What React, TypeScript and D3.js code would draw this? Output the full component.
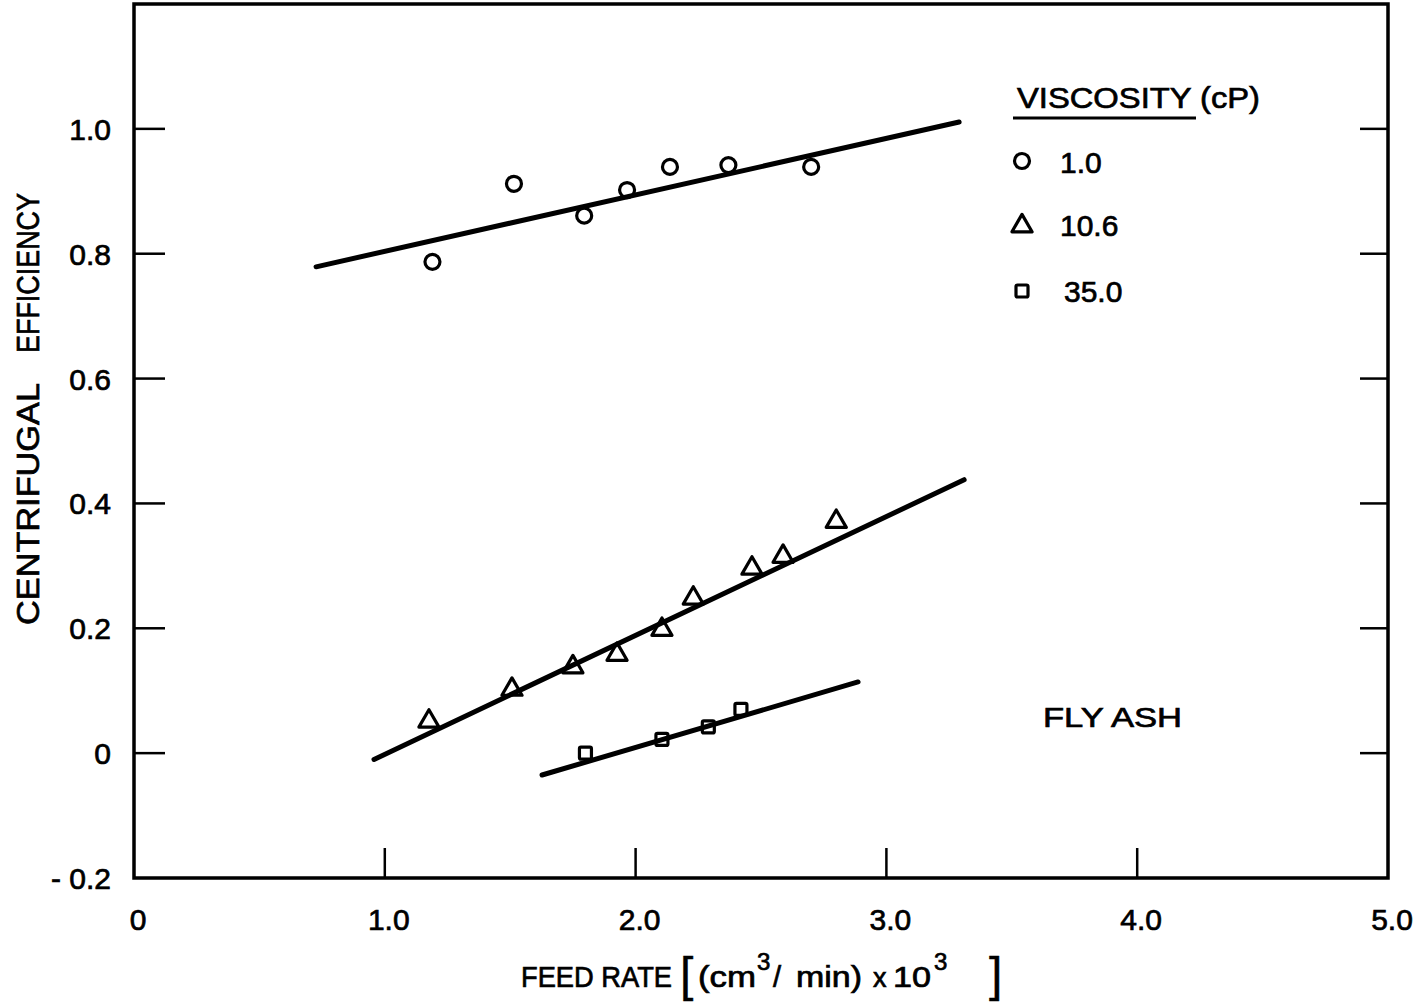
import React from "react";
import * as d3 from "d3";

// Feed rate (cm3/min x 10^3) and centrifugal efficiency, fly ash slurries
const lowViscX = [1.19, 1.515, 1.795, 1.966, 2.137, 2.37, 2.7];
const lowViscY = [0.787, 0.912, 0.861, 0.902, 0.939, 0.942, 0.939];
const midViscX = [1.176, 1.507, 1.75, 1.926, 2.105, 2.23, 2.464, 2.588, 2.8];
const midViscY = [0.051, 0.102, 0.138, 0.158, 0.198, 0.248, 0.296, 0.315, 0.371];
const highViscX = [1.8, 2.105, 2.29, 2.42];
const highViscY = [0.0, 0.022, 0.042, 0.07];

// Fitted lines: [x0, y0, x1, y1]
const lowFit = [0.726, 0.779, 3.29, 1.011];
const midFit = [0.957, -0.01, 3.31, 0.438];
const highFit = [1.627, -0.035, 2.887, 0.114];

const xTicks = [0, 1, 2, 3, 4, 5];
const xTickLabels = ["0", "1.0", "2.0", "3.0", "4.0", "5.0"];
const yTicks = [-0.2, 0, 0.2, 0.4, 0.6, 0.8, 1.0];
const yTickLabels = ["- 0.2", "0", "0.2", "0.4", "0.6", "0.8", "1.0"];
const legendTitle = "VISCOSITY (cP)";
const legendLabels = ["1.0", "10.6", "35.0"];

const FONT = "'Liberation Sans', Arial, sans-serif";
const INK = { fill: "#000", stroke: "#000", strokeWidth: 0.7 };

export default function App() {
  const left = 134, right = 1388, top = 4, bottom = 878;
  const x = d3.scaleLinear().domain([0, 5]).range([left, right]);
  const y = d3.scaleLinear().domain([-0.2, 1.2]).range([bottom, top]);
  const line = d3.line<[number, number]>().x((d) => x(d[0])).y((d) => y(d[1]));
  const fitPath = (f: number[]) => line([[f[0], f[1]], [f[2], f[3]]]) || "";

  const tri = d3.symbol().type(d3.symbolTriangle).size(175)() || "";

  const circle = (cx: number, cy: number, k: string) => (
    <circle key={k} cx={cx} cy={cy} r={7.5} fill="none" stroke="#000" strokeWidth={3.2} />
  );
  const triangle = (cx: number, cy: number, k: string) => (
    <path key={k} d={tri} transform={`translate(${cx},${cy})`} fill="none" stroke="#000" strokeWidth={3.2} strokeLinejoin="round" />
  );
  const square = (cx: number, cy: number, k: string) => (
    <rect key={k} x={cx - 6} y={cy - 6} width={12} height={12} rx={1.5} fill="none" stroke="#000" strokeWidth={3.2} />
  );

  return (
    <svg width={1424} height={1005} style={{ position: "absolute", left: 0, top: 0, background: "#fff" }} fontFamily={FONT}>
      <rect x={0} y={0} width={1424} height={1005} fill="#fff" />
      {/* frame */}
      <path d={`M${left},${top}H${right}V${bottom}H${left}Z`} fill="none" stroke="#000" strokeWidth={3.5} />

      {/* y ticks left and right */}
      {yTicks.map((t, i) => (
        <g key={"yt" + i}>
          {t > -0.2 && t < 1.1 && (
            <>
              <line x1={left} x2={left + 31} y1={y(t)} y2={y(t)} stroke="#000" strokeWidth={2.5} />
              <line x1={right - 28} x2={right} y1={y(t)} y2={y(t)} stroke="#000" strokeWidth={2.5} />
            </>
          )}
          <text x={111} y={y(t) + 11} textAnchor="end" fontSize={30} {...INK}>
            {yTickLabels[i]}
          </text>
        </g>
      ))}

      {/* x ticks */}
      {xTicks.map((t, i) => (
        <g key={"xt" + i}>
          {t > 0 && t < 5 && (
            <line x1={x(t)} x2={x(t)} y1={bottom} y2={bottom - 30} stroke="#000" strokeWidth={2.5} />
          )}
          <text x={x(t) + 4} y={930} textAnchor="middle" fontSize={30} {...INK}>
            {xTickLabels[i]}
          </text>
        </g>
      ))}

      {/* y axis title */}
      <g {...INK} fontSize={31}>
        <text transform="translate(39,625) rotate(-90)" textLength={242} lengthAdjust="spacingAndGlyphs">
          CENTRIFUGAL
        </text>
        <text transform="translate(39,353) rotate(-90)" textLength={160} lengthAdjust="spacingAndGlyphs">
          EFFICIENCY
        </text>
      </g>

      {/* x axis title */}
      <g {...INK}>
        <text x={521} y={987} fontSize={29} textLength={151} lengthAdjust="spacingAndGlyphs">FEED RATE</text>
        <text x={680} y={991} fontSize={48} strokeWidth={0.4}>[</text>
        <text x={698} y={987} fontSize={29} textLength={58} lengthAdjust="spacingAndGlyphs">(cm</text>
        <text x={757} y={970} fontSize={24}>3</text>
        <text x={773} y={987} fontSize={29}>/</text>
        <text x={796} y={987} fontSize={29} textLength={66} lengthAdjust="spacingAndGlyphs">min)</text>
        <text x={873} y={987} fontSize={27}>x</text>
        <text x={893} y={987} fontSize={29} textLength={38} lengthAdjust="spacingAndGlyphs">10</text>
        <text x={934} y={970} fontSize={24}>3</text>
        <text x={989} y={991} fontSize={48} strokeWidth={0.4}>]</text>
      </g>

      {/* fitted lines */}
      {[lowFit, midFit, highFit].map((f, i) => (
        <path key={"fit" + i} d={fitPath(f)} stroke="#000" strokeWidth={5} fill="none" strokeLinecap="round" />
      ))}

      {/* data points */}
      {lowViscX.map((v, i) => circle(x(v), y(lowViscY[i]), "c" + i))}
      {midViscX.map((v, i) => triangle(x(v), y(midViscY[i]), "t" + i))}
      {highViscX.map((v, i) => square(x(v), y(highViscY[i]), "s" + i))}

      {/* legend */}
      <text x={1017} y={108} fontSize={30} textLength={243} lengthAdjust="spacingAndGlyphs" {...INK}>{legendTitle}</text>
      <line x1={1013} x2={1196} y1={118} y2={118} stroke="#000" strokeWidth={3} />
      {circle(1022, 161, "lc")}
      <text x={1060} y={173} fontSize={30} {...INK}>{legendLabels[0]}</text>
      {triangle(1022, 226, "lt")}
      <text x={1060} y={236} fontSize={30} {...INK}>{legendLabels[1]}</text>
      {square(1022, 291, "ls")}
      <text x={1064} y={302} fontSize={30} {...INK}>{legendLabels[2]}</text>

      <text x={1043} y={727} fontSize={28} textLength={139} lengthAdjust="spacingAndGlyphs" {...INK}>
        FLY  ASH
      </text>
    </svg>
  );
}
